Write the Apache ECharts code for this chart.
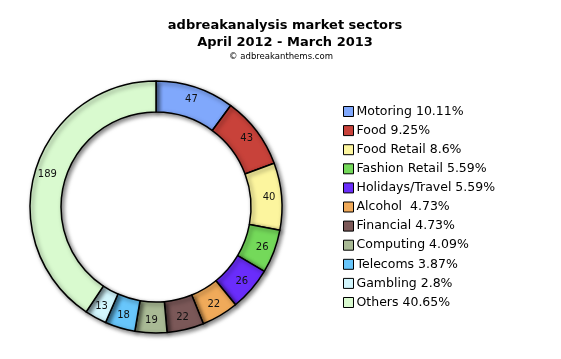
<!DOCTYPE html>
<html><head><meta charset="utf-8">
<script src="https://cdn.jsdelivr.net/npm/echarts@6/dist/echarts.min.js"></script>
<style>html,body{margin:0;padding:0;background:#fff}#c{width:561px;height:359px}</style>
</head><body><div id="c"></div>
<script>
var categories = ["Motoring","Food","Food Retail","Fashion Retail","Holidays/Travel","Alcohol","Financial","Computing","Telecoms","Gambling","Others"];
var values = [47,43,40,26,26,22,22,19,18,13,189];
var percentLabels = ["10.11%","9.25%","8.6%","5.59%","5.59%"," 4.73%","4.73%","4.09%","3.87%","2.8%","40.65%"];
var colors = ["#80a8fc","#c8423a","#fcf59e","#74d95a","#6a2dfb","#f0aa5a","#7b5858","#a9ba95","#68c6fb","#d2f6fd","#d9facf"];

var data = categories.map(function(n,i){return {name:n,value:values[i],itemStyle:{color:colors[i]}};});
var chart = echarts.init(document.getElementById('c'),null,{renderer:'canvas'});
chart.setOption({
  animation:false,
  title:[{
    text:'adbreakanalysis market sectors\nApril 2012 - March 2013',
    left:280, top:12, textAlign:'center',
    textStyle:{fontFamily:'DejaVu Sans',fontWeight:'bold',fontSize:13,lineHeight:17,color:'#000'}
  },{
    text:'© adbreakanthems.com',
    left:276, top:47, textAlign:'center',
    textStyle:{fontFamily:'DejaVu Sans',fontWeight:'normal',fontSize:8.5,color:'#000'}
  }],
  legend:{
    orient:'vertical', left:338, top:100, itemWidth:10, itemHeight:10, itemGap:6.1,
    icon:'rect',
    itemStyle:{borderColor:'#000',borderWidth:1},
    textStyle:{fontFamily:'DejaVu Sans',fontSize:12.5,color:'#000',padding:[0,0,0,-2]},
    formatter:function(n){return n+' '+percentLabels[categories.indexOf(n)];},
    data:categories
  },
  series:[{
    type:'pie', center:[156,207], radius:[95,126], startAngle:90, clockwise:true,
    avoidLabelOverlap:false,
    itemStyle:{borderColor:'#000',borderWidth:1.5,shadowBlur:4,shadowOffsetX:2,shadowOffsetY:2,shadowColor:'rgba(0,0,0,0.5)'},
    label:{show:true,position:'inside',formatter:'{c}',fontFamily:'DejaVu Sans',fontSize:10,color:'#111'},
    labelLine:{show:false},
    emphasis:{disabled:true},
    data:data
  }]
});
</script></body></html>
